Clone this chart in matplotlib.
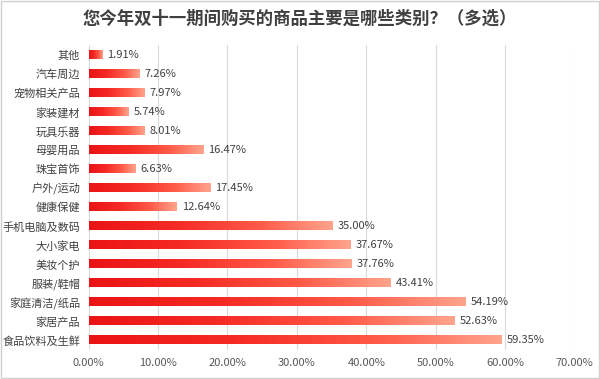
import numpy as np
import matplotlib
matplotlib.use("Agg")
import matplotlib.pyplot as plt
from matplotlib.colors import LinearSegmentedColormap
from matplotlib.patches import Rectangle

plt.rcParams['font.family'] = ['Noto Sans CJK SC', 'DejaVu Sans']

# data, top to bottom as in the picture
categories = ['其他', '汽车周边', '宠物相关产品', '家装建材', '玩具乐器', '母婴用品',
              '珠宝首饰', '户外/运动', '健康保健', '手机电脑及数码', '大小家电',
              '美妆个护', '服装/鞋帽', '家庭清洁/纸品', '家居产品', '食品饮料及生鲜']
values = [1.91, 7.26, 7.97, 5.74, 8.01, 16.47, 6.63, 17.45, 12.64, 35.00,
          37.67, 37.76, 43.41, 54.19, 52.63, 59.35]
xticks = [0, 10, 20, 30, 40, 50, 60, 70]
title = '您今年双十一期间购买的商品主要是哪些类别？（多选）'

cmap = LinearSegmentedColormap.from_list(
    'bar', [(0, '#ea1414'), (0.35, '#f52a24'), (0.7, '#ff5a48'), (1, '#ffa48c')])
grad = np.linspace(0, 1, 256).reshape(1, -1)

fig = plt.figure(figsize=(6, 3.79), dpi=100)
ax = fig.add_axes([0.1475, 0.0765, 0.8105, 0.8045])

bar_h = 0.42
for i, v in enumerate(values):
    ax.imshow(grad, cmap=cmap, aspect='auto', interpolation='bilinear',
              extent=(0, v, i + bar_h / 2, i - bar_h / 2), zorder=3)
    ax.text(v + 0.8, i, f'{v:.2f}%', va='center', ha='left',
            fontsize=8, color='#404040', zorder=4)

ax.set_xlim(0, 70)
ax.set_ylim(len(categories) - 0.5, -0.5)
ax.set_yticks(range(len(categories)))
ax.set_yticklabels(categories, fontsize=8, color='#404040')
ax.set_xticks(xticks)
ax.set_xticklabels([f'{t:.2f}%' for t in xticks], fontsize=8, color='#595959')
ax.tick_params(length=0, pad=6)
ax.tick_params(axis='x', pad=6)
ax.grid(axis='x', color='#d9d9d9', linewidth=0.8, zorder=0)
ax.set_axisbelow(True)
for s in ax.spines.values():
    s.set_visible(False)

fig.text(0.5, 0.952, title, ha='center', va='center', fontsize=12.5,
         fontweight='bold', color='#404040')

fig.patches.append(Rectangle((0.002, 0.003), 0.996, 0.994, transform=fig.transFigure,
                             fill=False, edgecolor='#d0d0d0', linewidth=1))

fig.savefig('out.png', dpi=100)
